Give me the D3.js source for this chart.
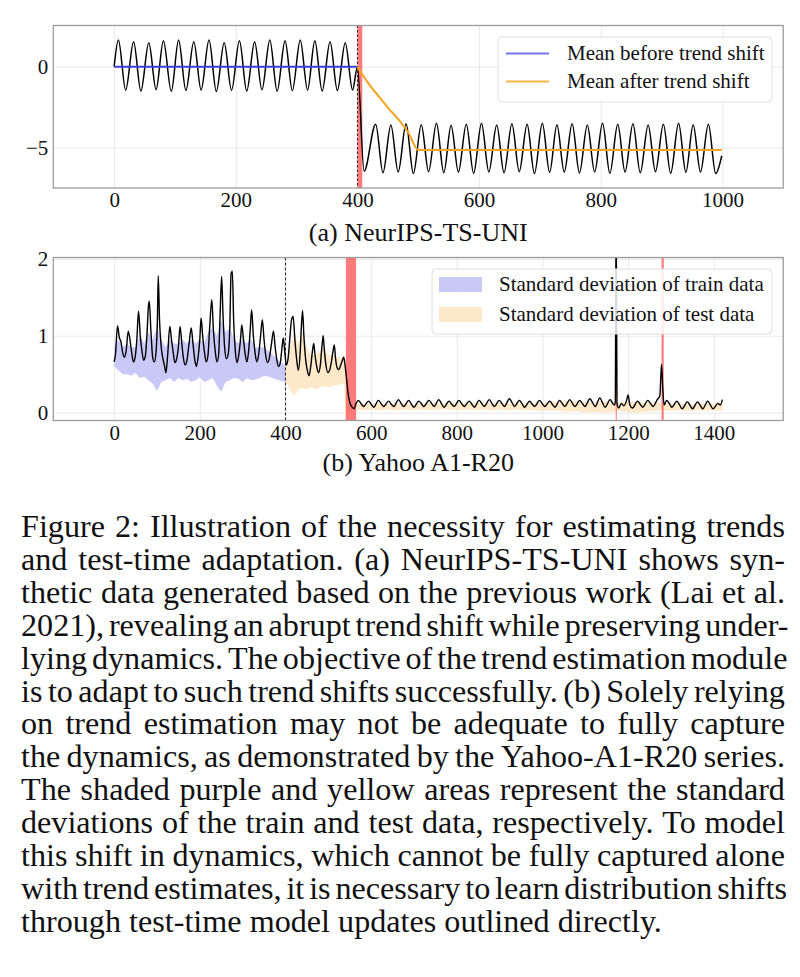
<!DOCTYPE html>
<html><head><meta charset="utf-8">
<script src="https://cdn.jsdelivr.net/npm/d3@7"></script>
<style>
html,body{margin:0;padding:0;background:#fff;}
svg{display:block;}
</style></head><body>
<svg id="fig" width="800" height="977"></svg>
<script>
// ================= DATA =================
// (a) NeurIPS-TS-UNI : synthetic series, read as extrema [t, value]
const synthT = [0,7,19,32,44,57,69,81,94,106,118,131,143,156,168,181,193,206,218,231,243,256,268,281,293,306,318,330,342,355,367,380,392,400,
  411,430,442,455,467,480,492,505,517,530,542,554,566,579,591,604,616,629,641,654,666,679,691,704,716,728,740,753,765,778,790,803,815,828,840,853,865,878,890,903,915,928,940,952,964,977,989,999];
const synthV = [0,1.65,-1.45,1.54,-1.50,1.48,-1.42,1.60,-1.52,1.65,-1.47,1.54,-1.44,1.65,-1.53,1.48,-1.46,1.60,-1.50,1.54,-1.43,1.65,-1.52,1.60,-1.48,1.65,-1.45,1.60,-1.50,1.54,-1.47,1.48,-1.44,0.0,
  -6.45,-3.55,-6.55,-3.60,-6.50,-3.52,-6.60,-3.58,-6.48,-3.50,-6.55,-3.62,-6.50,-3.55,-6.58,-3.50,-6.50,-3.60,-6.55,-3.52,-6.48,-3.55,-6.60,-3.50,-6.52,-3.58,-6.50,-3.52,-6.56,-3.60,-6.50,-3.50,-6.58,-3.55,-6.50,-3.52,-6.55,-3.60,-6.48,-3.55,-6.58,-3.50,-6.52,-3.58,-6.50,-3.55,-6.60,-5.50];
const meanBeforeT = [0,400];
const meanBeforeV = [0,0];
const meanAfterT = [400,418,440,451,468,484,500,999];
const meanAfterV = [0,-1.03,-2.06,-2.57,-3.29,-4.10,-5.14,-5.14];
const synthShift = [400,408];
const synthXTicks = [0,200,400,600,800,1000];
const synthYTicks = [0,-5];
const synthLegend = ["Mean before trend shift","Mean after trend shift"];
const synthTitle = "(a) NeurIPS-TS-UNI";

// (b) Yahoo A1-R20 : [t, value]
const yahoo = [[0,0.66],[3,0.75],[8,1.13],[12,0.98],[16,0.92],[20,0.78],[24,0.72],[28,0.80],[33,1.06],[37,0.95],[41,0.78],[45,0.66],[49,0.72],[53,0.95],[57,1.32],[61,1.0],[65,0.80],[69,0.68],[73,0.74],[77,1.05],[80,1.38],[82,1.45],[86,1.05],[90,0.72],[94,0.66],[98,0.80],[101,1.2],[103,1.78],[106,1.2],[110,0.85],[114,0.70],[118,0.60],[121,0.52],[125,0.75],[130,1.12],[134,0.95],[138,0.78],[142,0.65],[146,0.70],[150,0.85],[154,1.12],[158,0.90],[162,0.70],[166,0.62],[170,0.68],[175,0.90],[180,1.10],[184,0.90],[188,0.70],[192,0.60],[196,0.72],[200,0.95],[203,1.23],[207,0.98],[211,0.78],[215,0.66],[219,0.74],[223,1.10],[228,1.47],[232,1.05],[236,0.80],[240,0.66],[244,0.75],[247,1.20],[251,1.77],[254,1.30],[258,0.85],[262,0.70],[266,0.75],[270,1.10],[273,1.80],[276,1.84],[279,1.20],[283,0.80],[287,0.65],[291,0.75],[295,0.95],[298,1.14],[302,0.95],[306,0.76],[310,0.66],[314,0.80],[318,1.10],[321,1.34],[325,1.0],[329,0.78],[333,0.66],[337,0.74],[342,1.0],[346,1.21],[350,0.95],[354,0.74],[358,0.65],[362,0.70],[367,0.88],[372,1.06],[376,0.85],[380,0.68],[384,0.60],[388,0.65],[392,0.85],[395,0.97],[399,0.75],[402,0.62],
  [406,0.70],[410,0.95],[414,1.20],[418,1.25],[422,0.95],[426,0.70],[430,0.55],[434,0.75],[437,1.10],[440,1.33],[443,1.0],[447,0.70],[451,0.55],[455,0.48],[459,0.60],[463,0.80],[466,0.90],[469,0.75],[473,0.60],[477,0.52],[481,0.60],[485,0.85],[488,1.0],[491,0.80],[495,0.60],[499,0.52],[503,0.55],[507,0.65],[511,0.80],[514,0.88],[517,0.70],[521,0.58],[525,0.56],[529,0.62],[533,0.68],[536,0.72],[539,0.62],[543,0.42],[547,0.22],[551,0.12],[556,0.07],[560,0.05],
  [565,0.12],[570,0.16],[576,0.12],[582,0.08],[594,0.15],[600,0.11],[606,0.07],[617,0.16],[623,0.12],[629,0.08],[641,0.15],[647,0.11],[653,0.08],[664,0.17],[670,0.12],[676,0.08],[688,0.16],[694,0.11],[700,0.07],[711,0.15],[717,0.12],[723,0.08],[735,0.16],[741,0.12],[747,0.08],[758,0.17],[764,0.12],[770,0.07],[782,0.15],[788,0.11],[794,0.08],[805,0.16],[811,0.12],[817,0.08],[829,0.15],[835,0.11],[841,0.07],[852,0.16],[858,0.12],[864,0.08],[876,0.17],[882,0.12],[888,0.08],[899,0.16],[905,0.12],[911,0.08],[923,0.18],[929,0.13],[935,0.08],[946,0.16],[952,0.12],[958,0.07],[970,0.15],[976,0.11],[982,0.08],[993,0.16],[999,0.12],[1005,0.08],[1017,0.15],[1023,0.11],[1029,0.07],[1040,0.16],[1046,0.12],[1052,0.08],[1064,0.17],[1070,0.12],[1076,0.08],[1087,0.16],[1093,0.12],[1099,0.08],[1111,0.18],[1117,0.13],[1123,0.08],[1134,0.19],[1140,0.13],[1146,0.07],[1158,0.17],[1164,0.12],[1168,0.10],[1170,0.14],[1172,2.6],[1174,0.12],[1178,0.06],[1184,0.12],[1190,0.09],[1196,0.15],[1200,0.23],[1204,0.10],[1210,0.06],[1222,0.15],[1228,0.11],[1234,0.07],[1246,0.16],[1252,0.12],[1258,0.08],[1268,0.17],[1274,0.22],[1278,0.63],[1281,0.30],[1284,0.10],[1290,0.16],[1296,0.12],[1302,0.07],[1314,0.15],[1320,0.10],[1326,0.05],[1338,0.14],[1344,0.10],[1350,0.05],[1362,0.14],[1368,0.10],[1374,0.05],[1386,0.15],[1392,0.10],[1398,0.05],[1410,0.12],[1415,0.10],[1420,0.17]];

const trainBandT  = [0,10,20,30,40,50,60,70,80,90,100,110,120,130,140,150,160,170,180,190,200,210,220,230,240,250,260,270,280,290,300,310,320,330,340,350,360,370,380,390,400];
const trainBandHi = [0.85,0.95,0.85,0.90,0.85,0.85,1.0,0.90,1.05,0.95,1.10,0.95,0.85,0.95,0.90,0.90,0.95,0.90,0.95,0.90,0.95,0.90,1.05,1.10,1.0,1.20,1.05,1.10,0.95,0.90,0.95,0.90,0.95,0.85,0.85,0.85,0.80,0.75,0.70,0.65,0.62];
const trainBandLo = [0.60,0.55,0.50,0.50,0.48,0.52,0.45,0.47,0.42,0.38,0.28,0.40,0.42,0.45,0.40,0.45,0.42,0.44,0.40,0.42,0.46,0.40,0.42,0.45,0.35,0.27,0.40,0.42,0.45,0.44,0.40,0.45,0.42,0.43,0.45,0.48,0.47,0.45,0.43,0.41,0.40];

const testBandT  = [400,410,420,430,440,450,460,470,480,490,500,510,520,530,537,540,543,547,552,560,580,600,620,640,660,680,700,720,740,760,780,800,820,840,860,880,900,920,940,960,980,1000,1020,1040,1060,1080,1100,1120,1140,1160,1180,1200,1220,1240,1260,1280,1300,1320,1340,1360,1380,1400,1420];
const testBandHi = [0.62,0.85,1.0,0.90,1.05,0.85,0.75,0.75,0.80,0.85,0.75,0.75,0.72,0.72,0.72,0.66,0.45,0.22,0.12,0.10,0.12,0.11,0.12,0.11,0.12,0.12,0.11,0.12,0.13,0.12,0.12,0.13,0.12,0.13,0.14,0.12,0.13,0.12,0.13,0.12,0.13,0.13,0.14,0.14,0.15,0.15,0.14,0.13,0.15,0.12,0.13,0.14,0.14,0.13,0.14,0.12,0.12,0.12,0.11,0.12,0.11,0.12,0.13];
const testBandLo = [0.42,0.30,0.22,0.30,0.32,0.30,0.33,0.30,0.33,0.34,0.33,0.35,0.36,0.37,0.38,-0.2,-0.2,0.0,0.03,0.04,0.03,0.04,0.03,0.04,0.03,0.04,0.03,0.04,0.03,0.04,0.04,0.03,0.04,0.03,0.04,0.03,0.04,0.03,0.04,0.03,0.03,0.02,0.03,0.02,0.01,0.02,0.0,0.01,0.0,0.01,0.02,0.01,0.0,0.01,0.02,0.03,0.02,0.03,0.02,0.03,0.02,0.03,0.02];

const yahooSpans = [[541,565],[1171,1173.5],[1278,1283]];
const yahooSplit = 400;
const yahooXTicks = [0,200,400,600,800,1000,1200,1400];
const yahooYTicks = [0,1,2];
const yahooLegend = ["Standard deviation of train data","Standard deviation of test data"];
const yahooTitle = "(b) Yahoo A1-R20";

const captionLines = [
  "Figure 2: Illustration of the necessity for estimating trends",
  "and test-time adaptation. (a) NeurIPS-TS-UNI shows syn-",
  "thetic data generated based on the previous work (Lai et al.",
  "2021), revealing an abrupt trend shift while preserving under-",
  "lying dynamics. The objective of the trend estimation module",
  "is to adapt to such trend shifts successfully. (b) Solely relying",
  "on trend estimation may not be adequate to fully capture",
  "the dynamics, as demonstrated by the Yahoo-A1-R20 series.",
  "The shaded purple and yellow areas represent the standard",
  "deviations of the train and test data, respectively. To model",
  "this shift in dynamics, which cannot be fully captured alone",
  "with trend estimates, it is necessary to learn distribution shifts",
  "through test-time model updates outlined directly."
];

// ================= DRAWING =================
const FONT = '"Liberation Serif","Times New Roman",serif';
const svg = d3.select("#fig").attr("font-family", FONT);
const L = 53.3, R = 783.2;
const C = {
  grid:"#e8e8e8", frame:"#9c9c9c", red:"#ff5a5a", blue:"#3d3de0", blueLeg:"#7474ee",
  orange:"#f7a41f", orangeLeg:"#f9b547", purple:"#c9c9f8", yellow:"#fde9c9"
};

function frameAxes(g, x, y, top, bot, xt, yt, id) {
  g.append("g").attr("transform",`translate(0,${bot})`)
    .call(d3.axisBottom(x).tickValues(xt).tickSize(-(bot-top)).tickFormat(""))
    .call(a=>{a.select(".domain").remove(); a.selectAll("line").attr("stroke",C.grid).attr("stroke-width",1);});
  g.append("g").attr("transform",`translate(${L},0)`)
    .call(d3.axisLeft(y).tickValues(yt).tickSize(-(R-L)).tickFormat(""))
    .call(a=>{a.select(".domain").remove(); a.selectAll("line").attr("stroke",C.grid).attr("stroke-width",1);});
  g.append("clipPath").attr("id",id).append("rect").attr("x",L).attr("y",top).attr("width",R-L).attr("height",bot-top);
}
function labels(g, x, y, top, bot, xt, yt, yfmt) {
  g.append("g").attr("transform",`translate(0,${bot})`)
    .call(d3.axisBottom(x).tickValues(xt).tickSize(0).tickPadding(4.5).tickFormat(d3.format("d")))
    .call(a=>{a.select(".domain").remove(); a.selectAll("text").attr("font-family",FONT).attr("font-size",21).attr("fill","#111");});
  g.append("g").attr("transform",`translate(${L},0)`)
    .call(d3.axisLeft(y).tickValues(yt).tickSize(0).tickPadding(5).tickFormat(yfmt))
    .call(a=>{a.select(".domain").remove(); a.selectAll("text").attr("font-family",FONT).attr("font-size",21).attr("fill","#111");});
  g.append("rect").attr("x",L).attr("y",top).attr("width",R-L).attr("height",bot-top)
    .attr("fill","none").attr("stroke",C.frame).attr("stroke-width",1.3);
}
const minusFmt = d => (d<0? "\u2212"+Math.abs(d) : String(d));

// ---------- panel (a) ----------
{
  const top = 25.5, bot = 188;
  const x = d3.scaleLinear().domain([-100,1100]).range([L,R]);
  const y = d3.scaleLinear().domain([-7.49,2.54]).range([bot,top]);
  const g = svg.append("g");
  frameAxes(g,x,y,top,bot,synthXTicks,synthYTicks,"clipA");
  const p = g.append("g").attr("clip-path","url(#clipA)");
  p.append("rect").attr("x",x(synthShift[0])).attr("width",x(synthShift[1])-x(synthShift[0]))
    .attr("y",top).attr("height",bot-top).attr("fill",C.red).attr("opacity",0.8);
  p.append("line").attr("x1",x(400)).attr("x2",x(400)).attr("y1",top).attr("y2",bot)
    .attr("stroke","#222").attr("stroke-width",1).attr("stroke-dasharray","2.5,2");
  const pts = synthT.map((t,i)=>[t,synthV[i]]);
  const line = d3.line().x(d=>x(d[0])).y(d=>y(d[1])).curve(d3.curveMonotoneX);
  p.append("path").attr("d",line(pts)).attr("fill","none").attr("stroke","#000").attr("stroke-width",1.5);
  p.append("path").attr("d",d3.line().x(d=>x(d[0])).y(d=>y(d[1]))(meanBeforeT.map((t,i)=>[t,meanBeforeV[i]])))
    .attr("fill","none").attr("stroke",C.blue).attr("stroke-width",2);
  p.append("path").attr("d",d3.line().x(d=>x(d[0])).y(d=>y(d[1])).curve(d3.curveMonotoneX)(meanAfterT.map((t,i)=>[t,meanAfterV[i]])))
    .attr("fill","none").attr("stroke",C.orange).attr("stroke-width",2);
  labels(g,x,y,top,bot,synthXTicks,synthYTicks,minusFmt);
  const lg = g.append("g");
  lg.append("rect").attr("x",498).attr("y",37).attr("width",274).attr("height",65).attr("rx",4)
    .attr("fill","#fff").attr("fill-opacity",0.85).attr("stroke","#dedede").attr("stroke-width",1);
  [[C.blueLeg,53.5],[C.orangeLeg,81.5]].forEach(([c,yy],i)=>{
    lg.append("line").attr("x1",506).attr("x2",549).attr("y1",yy).attr("y2",yy).attr("stroke",c).attr("stroke-width",2);
    lg.append("text").attr("x",567).attr("y",yy).attr("dy","0.33em").attr("font-size",21).attr("fill","#111").text(synthLegend[i]);
  });
  g.append("text").attr("x",(L+R)/2).attr("y",241).attr("text-anchor","middle").attr("font-size",26).attr("fill","#111").text(synthTitle);
}

// ---------- panel (b) ----------
{
  const top = 257.5, bot = 420.5;
  const x = d3.scaleLinear().domain([-142,1562]).range([L,R]);
  const y = d3.scaleLinear().domain([-0.102,2.017]).range([bot,top]);
  const g = svg.append("g");
  frameAxes(g,x,y,top,bot,yahooXTicks,yahooYTicks,"clipB");
  const p = g.append("g").attr("clip-path","url(#clipB)");
  const area = d3.area().x(d=>x(d[0])).y0(d=>y(d[1])).y1(d=>y(d[2])).curve(d3.curveLinear);
  p.append("path").attr("d",area(trainBandT.map((t,i)=>[t,trainBandLo[i],trainBandHi[i]]))).attr("fill",C.purple);
  p.append("path").attr("d",area(testBandT.map((t,i)=>[t,testBandLo[i],testBandHi[i]]))).attr("fill",C.yellow);
  yahooSpans.forEach(s=>{
    p.append("rect").attr("x",x(s[0])).attr("width",x(s[1])-x(s[0])).attr("y",top).attr("height",bot-top)
      .attr("fill",C.red).attr("opacity",0.8);
  });
  p.append("line").attr("x1",x(yahooSplit)).attr("x2",x(yahooSplit)).attr("y1",top).attr("y2",bot)
    .attr("stroke","#222").attr("stroke-width",1).attr("stroke-dasharray","3,2");
  const line = d3.line().x(d=>x(d[0])).y(d=>y(d[1])).curve(d3.curveMonotoneX);
  p.append("path").attr("d",line(yahoo)).attr("fill","none").attr("stroke","#000").attr("stroke-width",1.4);
  labels(g,x,y,top,bot,yahooXTicks,yahooYTicks,d3.format("d"));
  const lg = g.append("g");
  lg.append("rect").attr("x",432).attr("y",269).attr("width",340).attr("height",65).attr("rx",4)
    .attr("fill","#fff").attr("fill-opacity",0.85).attr("stroke","#dedede").attr("stroke-width",1);
  [[C.purple,284.5],[C.yellow,314.5]].forEach(([c,yy],i)=>{
    lg.append("rect").attr("x",439).attr("y",yy-7.5).attr("width",43).attr("height",15).attr("fill",c);
    lg.append("text").attr("x",499).attr("y",yy).attr("dy","0.33em").attr("font-size",21).attr("fill","#111").text(yahooLegend[i]);
  });
  g.append("text").attr("x",(L+R)/2).attr("y",471).attr("text-anchor","middle").attr("font-size",26).attr("fill","#111").text(yahooTitle);
}

// ---------- caption (justified) ----------
{
  const X0 = 21, X1 = 785, Y0 = 537, DY = 32.9, FS0 = 30;
  const W = X1 - X0;
  const cg = svg.append("g").attr("fill","#111");
  const meas = cg.append("text").attr("x",-1000).attr("y",-1000).attr("font-size",FS0);
  const wlen = s => { meas.text(s); return meas.node().getComputedTextLength(); };
  const spaceW0 = wlen("x x") - wlen("xx");
  const info = captionLines.map(l => {
    const words = l.split(" ");
    const ws = words.map(wlen);
    const sum = d3.sum(ws);
    return {words, ws, sum, nat: sum + spaceW0*(words.length-1)};
  });
  meas.remove();
  const r = d3.median(info.slice(0,-1).map(d => W/d.nat));
  const FS = FS0 * r;
  cg.attr("font-size", FS);
  info.forEach((d,i) => {
    const last = i === info.length-1;
    const ws = d.ws.map(w => w*r), sum = d.sum*r, sp = spaceW0*r;
    const gap = last ? sp : Math.max(sp*0.6, (W - sum)/(d.words.length-1));
    const t = cg.append("text").attr("y", Y0 + i*DY);
    let cx = X0;
    d.words.forEach((w,j) => {
      t.append("tspan").attr("x",cx).text(w);
      cx += ws[j] + gap;
    });
  });
}
</script>
</body></html>
